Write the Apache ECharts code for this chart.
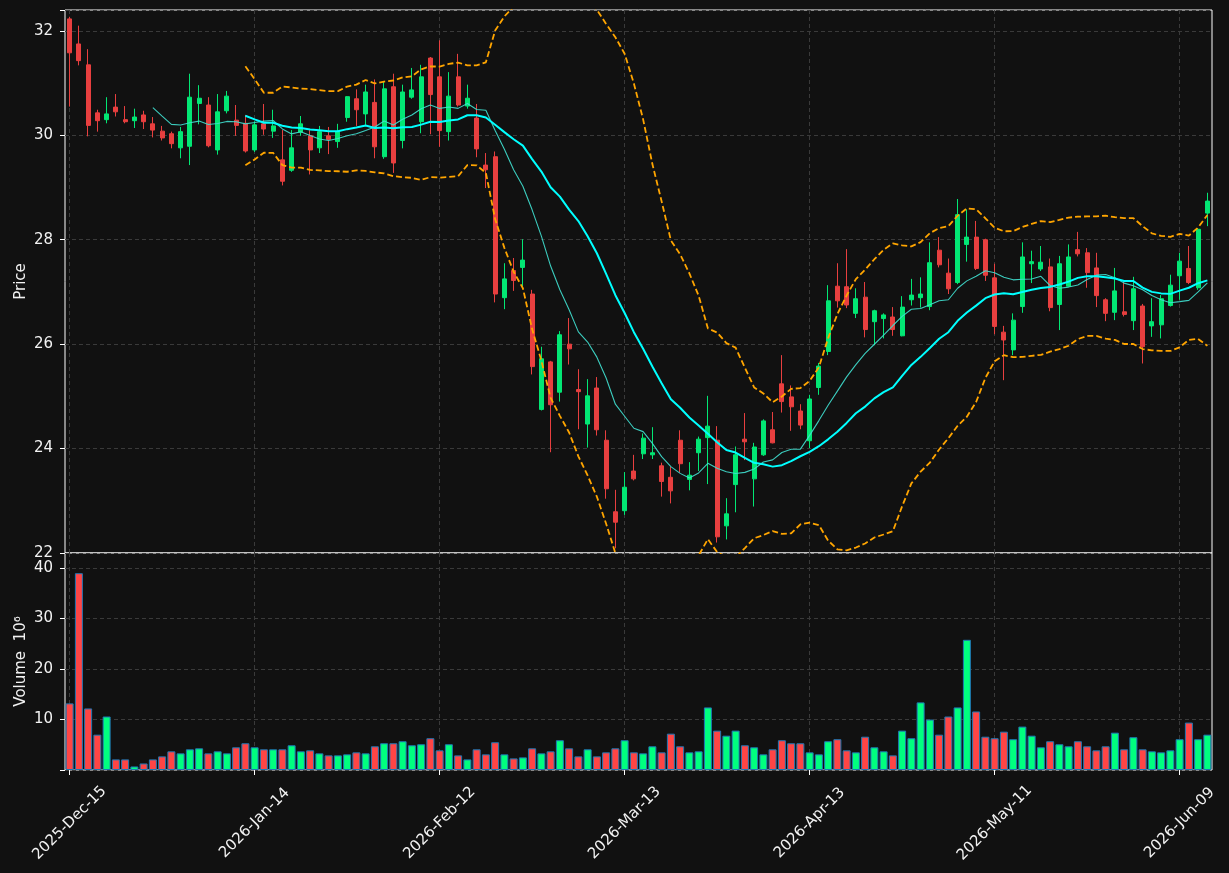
<!DOCTYPE html>
<html>
<head>
<meta charset="utf-8">
<script src="https://cdn.jsdelivr.net/npm/echarts@6/dist/echarts.min.js"></script>
<style>
  html, body { margin: 0; padding: 0; background: #111111; }
  #chart { width: 1229px; height: 873px; }
</style>
</head>
<body>
<div id="chart"></div>
<script>
// trading days (NYSE calendar)
const dates = [
  '2025-Dec-15','2025-Dec-16','2025-Dec-17','2025-Dec-18','2025-Dec-19','2025-Dec-22','2025-Dec-23','2025-Dec-24','2025-Dec-26','2025-Dec-29','2025-Dec-30','2025-Dec-31',
  '2026-Jan-02','2026-Jan-05','2026-Jan-06','2026-Jan-07','2026-Jan-08','2026-Jan-09','2026-Jan-12','2026-Jan-13','2026-Jan-14','2026-Jan-15','2026-Jan-16',
  '2026-Jan-20','2026-Jan-21','2026-Jan-22','2026-Jan-23','2026-Jan-26','2026-Jan-27','2026-Jan-28','2026-Jan-29','2026-Jan-30',
  '2026-Feb-02','2026-Feb-03','2026-Feb-04','2026-Feb-05','2026-Feb-06','2026-Feb-09','2026-Feb-10','2026-Feb-11','2026-Feb-12','2026-Feb-13',
  '2026-Feb-17','2026-Feb-18','2026-Feb-19','2026-Feb-20','2026-Feb-23','2026-Feb-24','2026-Feb-25','2026-Feb-26','2026-Feb-27',
  '2026-Mar-02','2026-Mar-03','2026-Mar-04','2026-Mar-05','2026-Mar-06','2026-Mar-09','2026-Mar-10','2026-Mar-11','2026-Mar-12','2026-Mar-13',
  '2026-Mar-16','2026-Mar-17','2026-Mar-18','2026-Mar-19','2026-Mar-20','2026-Mar-23','2026-Mar-24','2026-Mar-25','2026-Mar-26','2026-Mar-27',
  '2026-Mar-30','2026-Mar-31','2026-Apr-01','2026-Apr-02','2026-Apr-06','2026-Apr-07','2026-Apr-08','2026-Apr-09','2026-Apr-10',
  '2026-Apr-13','2026-Apr-14','2026-Apr-15','2026-Apr-16','2026-Apr-17','2026-Apr-20','2026-Apr-21','2026-Apr-22','2026-Apr-23','2026-Apr-24',
  '2026-Apr-27','2026-Apr-28','2026-Apr-29','2026-Apr-30','2026-May-01','2026-May-04','2026-May-05','2026-May-06','2026-May-07','2026-May-08',
  '2026-May-11','2026-May-12','2026-May-13','2026-May-14','2026-May-15','2026-May-18','2026-May-19','2026-May-20','2026-May-21','2026-May-22',
  '2026-May-26','2026-May-27','2026-May-28','2026-May-29','2026-Jun-01','2026-Jun-02','2026-Jun-03','2026-Jun-04','2026-Jun-05',
  '2026-Jun-08','2026-Jun-09','2026-Jun-10','2026-Jun-11','2026-Jun-12'
];

const open = [
  32.23, 31.75, 31.35, 30.43, 30.30, 30.54, 30.30, 30.28, 30.39, 30.22,
  30.08, 30.03, 29.76, 29.79, 30.61, 30.58, 29.72, 30.47, 30.29, 30.23,
  29.72, 30.22, 30.08, 29.53, 29.33, 30.06, 29.99, 29.76, 29.99, 29.88,
  30.34, 30.70, 30.41, 30.63, 29.59, 30.93, 29.90, 30.73, 30.26, 31.48,
  31.12, 30.07, 31.12, 30.56, 30.33, 29.43, 29.59, 26.89, 27.41, 27.47,
  26.96, 24.75, 25.66, 25.08, 26.00, 25.13, 24.47, 25.16, 24.16, 22.79,
  22.81, 23.57, 23.90, 23.88, 23.67, 23.45, 24.16, 23.41, 23.92, 24.21,
  24.16, 22.52, 23.31, 24.18, 23.42, 23.88, 24.36, 25.24, 24.99, 24.72,
  24.15, 25.17, 25.86, 27.11, 27.10, 26.59, 26.90, 26.43, 26.49, 26.52,
  26.16, 26.85, 26.89, 26.72, 27.80, 27.36, 27.18, 27.91, 28.05, 28.00,
  27.27, 26.23, 25.89, 26.72, 27.54, 27.44, 27.48, 26.76, 27.11, 27.81,
  27.75, 27.46, 26.85, 26.61, 26.62, 26.45, 26.73, 26.35, 26.37, 26.74,
  27.31, 27.45, 27.08, 28.51
];
const close = [
  31.58, 31.43, 30.19, 30.28, 30.41, 30.45, 30.26, 30.35, 30.26, 30.10,
  29.95, 29.84, 30.07, 30.73, 30.71, 29.80, 30.45, 30.75, 30.19, 29.70,
  30.20, 30.12, 30.18, 29.12, 29.76, 30.22, 29.72, 30.07, 29.92, 30.07,
  30.74, 30.49, 30.83, 29.78, 30.89, 29.47, 30.83, 30.87, 31.12, 30.78,
  30.09, 30.75, 30.58, 30.71, 29.74, 29.34, 26.96, 27.25, 27.22, 27.61,
  25.57, 25.72, 24.84, 26.18, 25.91, 25.09, 25.01, 24.36, 23.23, 22.59,
  23.26, 23.42, 24.20, 23.92, 23.37, 23.19, 23.71, 23.49, 24.18, 24.43,
  22.31, 22.75, 23.88, 24.13, 24.03, 24.53, 24.11, 24.90, 24.80, 24.45,
  24.95, 25.58, 26.83, 26.83, 26.75, 26.87, 26.28, 26.64, 26.56, 26.28,
  26.71, 26.94, 26.96, 27.56, 27.52, 27.06, 28.48, 28.05, 27.45, 27.32,
  26.34, 26.08, 26.46, 27.67, 27.58, 27.57, 26.70, 27.54, 27.67, 27.73,
  27.37, 26.93, 26.59, 27.02, 26.57, 27.06, 25.95, 26.43, 26.87, 27.13,
  27.59, 27.18, 28.20, 28.74
];
const low = [
  30.55, 31.34, 29.98, 30.07, 30.23, 30.36, 30.23, 30.14, 30.12, 29.96,
  29.90, 29.75, 29.56, 29.43, 30.21, 29.77, 29.63, 30.42, 29.99, 29.67,
  29.68, 30.01, 29.95, 29.04, 29.30, 29.99, 29.25, 29.66, 29.64, 29.76,
  30.26, 30.18, 30.20, 29.56, 29.55, 29.28, 29.75, 30.70, 30.04, 30.02,
  29.78, 29.90, 30.55, 30.51, 29.58, 28.99, 26.80, 26.67, 27.02, 27.10,
  25.42, 24.73, 23.93, 24.90, 25.61, 24.37, 24.02, 24.25, 23.04, 22.09,
  22.73, 23.39, 23.80, 23.80, 23.08, 22.95, 23.54, 23.20, 23.57, 23.32,
  22.20, 22.26, 22.78, 23.78, 22.89, 23.86, 24.10, 24.69, 24.34, 24.37,
  24.01, 25.03, 25.79, 26.70, 26.69, 26.50, 26.13, 25.98, 26.11, 26.16,
  26.15, 26.74, 26.70, 26.65, 27.47, 26.96, 27.15, 27.58, 27.42, 27.21,
  26.19, 25.31, 25.79, 26.60, 27.17, 27.40, 26.63, 26.27, 27.10, 27.68,
  27.08, 26.71, 26.44, 26.46, 26.53, 26.27, 25.63, 26.14, 26.11, 26.72,
  26.85, 27.15, 27.04, 28.26
];
const high = [
  32.27, 32.10, 31.65, 30.49, 30.73, 30.79, 30.56, 30.51, 30.47, 30.35,
  30.18, 30.07, 30.16, 31.18, 30.96, 30.73, 30.79, 30.85, 30.58, 30.39,
  30.27, 30.60, 30.49, 30.10, 30.10, 30.37, 30.10, 30.18, 30.16, 30.22,
  30.75, 30.88, 30.97, 31.07, 31.02, 31.18, 30.97, 31.29, 31.35, 31.50,
  31.82, 31.21, 31.56, 30.97, 30.60, 29.66, 29.69, 27.55, 27.65, 28.01,
  27.04, 25.95, 25.68, 26.25, 26.50, 25.52, 25.33, 25.37, 24.35, 23.21,
  23.55, 23.88, 24.29, 24.41, 23.73, 23.65, 24.35, 23.74, 24.23, 25.01,
  24.43, 23.05, 24.04, 24.68, 24.11, 24.56, 24.70, 25.79, 25.21, 24.85,
  25.03, 25.64, 27.13, 27.55, 27.82, 27.07, 27.19, 26.66, 26.59, 26.71,
  26.92, 27.25, 27.28, 27.95, 28.05, 27.64, 28.78, 28.58, 28.36, 28.02,
  27.54, 26.35, 26.59, 27.95, 27.79, 27.88, 27.64, 27.69, 27.91, 28.15,
  27.84, 27.75, 26.88, 27.46, 27.20, 27.29, 26.77, 26.88, 26.94, 27.33,
  27.75, 27.88, 28.22, 28.90
];
// volume in millions
const volume = [
  13.2, 39.0, 12.2, 7.0, 10.6, 2.1, 2.1, 0.7, 1.3, 2.1,
  2.7, 3.7, 3.3, 4.1, 4.3, 3.3, 3.7, 3.3, 4.5, 5.3,
  4.5, 4.1, 4.1, 4.1, 4.9, 3.7, 3.9, 3.3, 2.9, 2.9,
  3.1, 3.5, 3.3, 4.7, 5.3, 5.3, 5.7, 4.9, 5.1, 6.3,
  3.9, 5.1, 2.9, 2.1, 4.1, 3.1, 5.5, 3.1, 2.3, 2.5,
  4.3, 3.3, 3.7, 5.9, 4.3, 2.7, 4.1, 2.7, 3.5, 4.3,
  5.9, 3.5, 3.3, 4.7, 3.5, 7.2, 4.7, 3.5, 3.7, 12.4,
  7.8, 6.8, 7.8, 4.9, 4.5, 3.1, 4.1, 5.9, 5.3, 5.3,
  3.5, 3.1, 5.7, 6.1, 3.9, 3.5, 6.6, 4.5, 3.7, 2.9,
  7.8, 6.3, 13.4, 10.0, 7.0, 10.6, 12.4, 25.8, 11.6, 6.6,
  6.3, 7.6, 6.1, 8.6, 6.8, 4.5, 5.7, 5.1, 4.7, 5.7,
  4.7, 3.9, 4.7, 7.4, 4.1, 6.5, 4.1, 3.7, 3.5, 3.9,
  6.1, 9.4, 6.1, 7.0
];

const UP = '#02e774', DOWN = '#e83f3f';
const VOL_UP = '#00ff7f', VOL_DOWN = '#ff4545';
const TXT = '#f2f2f2';
const FONT = 'DejaVu Sans';
const FS = 15;

// rolling mean / bollinger from the closes
const sma = (arr, n) => arr.map((_, i) => {
  if (i < n - 1) return '-';
  let s = 0;
  for (let k = i - n + 1; k <= i; k++) s += arr[k];
  return +(s / n).toFixed(4);
});
const boll = (arr, n, m, sign) => arr.map((_, i) => {
  if (i < n - 1) return '-';
  let s = 0;
  for (let k = i - n + 1; k <= i; k++) s += arr[k];
  const mean = s / n;
  let v = 0;
  for (let k = i - n + 1; k <= i; k++) v += (arr[k] - mean) ** 2;
  return +(mean + sign * m * Math.sqrt(v / n)).toFixed(4);
});

const ma10 = sma(close, 10);
const ma20 = sma(close, 20);
const bbUp = boll(close, 20, 2, 1);
const bbLow = boll(close, 20, 2, -1);
const candles = dates.map((_, i) => [open[i], close[i], low[i], high[i]]);
const volBars = volume.map((v, i) => ({
  value: v,
  itemStyle: { color: close[i] > open[i] ? VOL_UP : VOL_DOWN }
}));

const gridLine = { show: true, lineStyle: { color: '#3a3a3a', type: [4, 3], width: 1 } };
const xSplit = { show: true, interval: 19, alignWithLabel: true, lineStyle: { color: '#3a3a3a', type: [4, 3], width: 1 } };

const chart = echarts.init(document.getElementById('chart'));
chart.setOption({
  animation: false,
  backgroundColor: '#111111',
  textStyle: { fontFamily: FONT },
  grid: [
    { left: 65, top: 10, width: 1147, height: 543, show: true, borderColor: '#ffffff', borderWidth: 1, backgroundColor: '#111111' },
    { left: 65, top: 553, width: 1147, height: 217, show: true, borderColor: '#ffffff', borderWidth: 1, backgroundColor: '#111111' }
  ],
  xAxis: [
    {
      type: 'category', gridIndex: 0, data: dates, boundaryGap: true,
      axisLine: { show: false }, axisTick: { show: false }, axisLabel: { show: false },
      splitLine: xSplit
    },
    {
      type: 'category', gridIndex: 1, data: dates, boundaryGap: true,
      axisLine: { show: false },
      axisTick: { show: true, interval: 19, alignWithLabel: true, length: 5, lineStyle: { color: '#ffffff' } },
      axisLabel: {
        interval: 19, rotate: 45, align: 'center', verticalAlign: 'middle', margin: 53,
        color: TXT, fontSize: FS, fontFamily: FONT
      },
      splitLine: xSplit
    }
  ],
  yAxis: [
    {
      type: 'value', gridIndex: 0, min: 22, max: 32.4, interval: 2,
      name: 'Price', nameLocation: 'middle', nameGap: 36, nameMoveOverlap: false,
      nameTextStyle: { color: TXT, fontSize: FS, fontFamily: FONT },
      axisLine: { show: false },
      axisTick: { show: true, length: 5, lineStyle: { color: '#ffffff' } },
      axisLabel: {
        color: TXT, fontSize: FS, fontFamily: FONT, margin: 12,
        formatter: v => (Math.abs(v % 2) < 1e-6 ? String(Math.round(v)) : '')
      },
      splitLine: gridLine
    },
    {
      type: 'value', gridIndex: 1, min: 0, max: 43, interval: 10,
      name: 'Volume  10⁶', nameLocation: 'middle', nameGap: 36, nameMoveOverlap: false,
      nameTextStyle: { color: TXT, fontSize: FS, fontFamily: FONT },
      axisLine: { show: false },
      axisTick: { show: true, length: 5, lineStyle: { color: '#ffffff' } },
      axisLabel: {
        color: TXT, fontSize: FS, fontFamily: FONT, margin: 12,
        formatter: v => (v > 0 && Math.abs(v % 10) < 1e-6 ? String(Math.round(v)) : '')
      },
      splitLine: gridLine
    }
  ],
  series: [
    {
      name: 'BB upper', type: 'line', xAxisIndex: 0, yAxisIndex: 0, data: bbUp,
      showSymbol: false, symbol: 'none', clip: true,
      lineStyle: { color: '#ffa500', width: 1.8, type: [6, 3] }, z: 3
    },
    {
      name: 'BB lower', type: 'line', xAxisIndex: 0, yAxisIndex: 0, data: bbLow,
      showSymbol: false, symbol: 'none', clip: true,
      lineStyle: { color: '#ffa500', width: 1.8, type: [6, 3] }, z: 3
    },
    {
      name: 'OHLC', type: 'candlestick', xAxisIndex: 0, yAxisIndex: 0, data: candles,
      barWidth: 4.5,
      itemStyle: { color: UP, color0: DOWN, borderColor: UP, borderColor0: DOWN, borderWidth: 1 },
      z: 2
    },
    {
      name: 'MA10', type: 'line', xAxisIndex: 0, yAxisIndex: 0, data: ma10,
      showSymbol: false, symbol: 'none',
      lineStyle: { color: '#40e0d0', width: 1.1, opacity: 0.9 }, z: 4
    },
    {
      name: 'MA20', type: 'line', xAxisIndex: 0, yAxisIndex: 0, data: ma20,
      showSymbol: false, symbol: 'none',
      lineStyle: { color: '#00ffff', width: 2 }, z: 5
    },
    {
      name: 'Volume', type: 'bar', xAxisIndex: 1, yAxisIndex: 1, data: volBars,
      barWidth: 8,
      itemStyle: { borderColor: '#1f77b4', borderWidth: 1 }
    }
  ]
});
</script>
</body>
</html>
